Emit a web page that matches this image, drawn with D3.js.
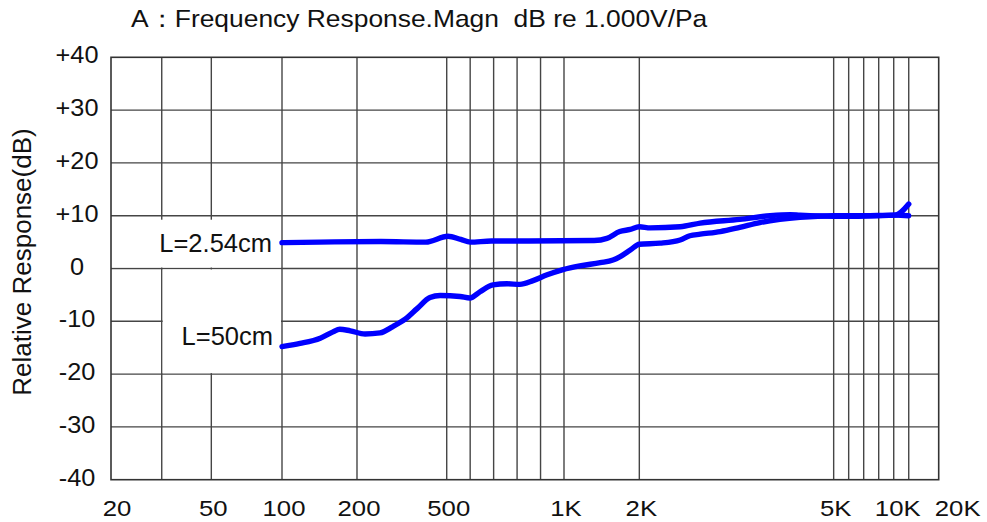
<!DOCTYPE html>
<html>
<head>
<meta charset="utf-8">
<script src="https://d3js.org/d3.v7.min.js"></script>
<style>
  body { margin: 0; background: #fff; }
  text { font-family: Arial, "Liberation Sans", sans-serif; fill: #111; }
</style>
</head>
<body>
<div id="chart"></div>
<script>

// x axis labels and gridlines (the paper uses a non-uniform frequency grid)
var xTickValues = [20, 50, 100, 200, 500, 1000, 2000, 5000, 10000, 20000];
var xTickLabels = ["20", "50", "100", "200", "500", "1K", "2K", "5K", "10K", "20K"];
var xGridValues = [30, 50, 100, 200, 500, 600, 700, 800, 900, 1000, 2000, 5000, 6000, 7000, 8000, 9000, 10000];

var yTickValues = [40, 30, 20, 10, 0, -10, -20, -30, -40];
var yTickLabels = ["+40", "+30", "+20", "+10", "0", "-10", "-20", "-30", "-40"];

// L=2.54cm
var freqNear = [100, 150, 280, 430, 505, 560, 600, 690, 850, 1400, 1570, 1740, 1880, 2000, 2170, 2630, 2940, 3550, 4020, 4330, 4480, 5000, 6080, 7420, 9090, 10000];
var respNear = [4.9, 5.0, 5.1, 5.0, 6.1, 5.5, 5.0, 5.2, 5.2, 5.3, 5.7, 7.0, 7.4, 7.9, 7.7, 7.9, 8.6, 9.3, 10.0, 10.2, 10.1, 9.9, 9.9, 10.0, 10.1, 10.0];

// L=50cm
var freqFar = [100, 124, 151, 168, 177, 191, 227, 277, 320, 361, 401, 444, 478, 557, 599, 642, 697, 757, 812, 868, 928, 996, 1210, 1480, 1650, 1740, 1880, 2000, 2320, 2630, 2780, 2940, 3250, 3550, 3860, 4170, 4480, 5000, 7420, 9090, 10000];
var respFar = [-14.8, -14.2, -13.2, -12.0, -11.5, -11.8, -12.4, -12.2, -11.0, -9.6, -7.6, -5.5, -5.1, -5.3, -5.6, -4.4, -3.1, -2.9, -3.0, -2.3, -1.2, -0.2, 0.5, 1.1, 1.6, 2.2, 3.5, 4.6, 4.8, 5.4, 6.2, 6.5, 7.0, 7.8, 8.7, 9.3, 9.7, 10.0, 10.0, 10.1, 12.2];

var W = 987, H = 522;
var margin = {top: 57.3, right: 48.3, bottom: 42.3, left: 111},
    width = W - margin.left - margin.right,
    height = H - margin.top - margin.bottom;
var x0 = margin.left, x1 = margin.left + width,
    y0 = margin.top, y1 = margin.top + height;

var svg = d3.select("#chart").append("svg")
  .attr("width", W)
  .attr("height", H);

// piecewise scale calibrated to the printed grid
var xBreaks = [20, 30, 50, 100, 200, 500, 1000, 2000, 5000, 10000, 20000];
var xStops  = [0, .0613, .1212, .2066, .2972, .4056, .5473, .6383, .8731, .9638, 1];
var x = d3.scaleLinear()
  .domain(xBreaks)
  .range(xStops.map(function(f) { return x0 + f * width; }));

var y = d3.scaleLinear()
  .domain([-40, 40])
  .range([y1, y0]);

var gridColor = "#454545";
var grid = svg.append("g");

grid.selectAll(".vg").data(xGridValues).enter().append("line")
  .attr("x1", function(d) { return x(d); })
  .attr("x2", function(d) { return x(d); })
  .attr("y1", y0).attr("y2", y1)
  .attr("stroke", gridColor).attr("stroke-width", 1.4);

grid.selectAll(".hg").data(yTickValues.slice(1, -1)).enter().append("line")
  .attr("x1", x0).attr("x2", x1)
  .attr("y1", function(d) { return y(d); })
  .attr("y2", function(d) { return y(d); })
  .attr("stroke", gridColor).attr("stroke-width", 1.4);

grid.append("rect")
  .attr("x", x0).attr("y", y0)
  .attr("width", width).attr("height", height)
  .attr("fill", "none").attr("stroke", "#333").attr("stroke-width", 1.6);

// white boxes behind the curve labels
grid.append("rect")
  .attr("x", x(20) + 1).attr("y", y(10) + 4)
  .attr("width", x(100) - x(20) - 2).attr("height", y(0) - y(10) - 5)
  .attr("fill", "#fff");
grid.append("rect")
  .attr("x", x(30) + 1).attr("y", y(0) + 1)
  .attr("width", x(100) - x(30) - 2).attr("height", y(-20) - y(0) - 2)
  .attr("fill", "#fff");

// curves
var line = d3.line()
  .x(function(d) { return x(d[0]); })
  .y(function(d) { return y(d[1]); })
  .curve(d3.curveMonotoneX);

[[freqFar, respFar], [freqNear, respNear]].forEach(function(s) {
  svg.append("path")
    .datum(d3.zip(s[0], s[1]))
    .attr("d", line)
    .attr("fill", "none")
    .attr("stroke", "#0000ff")
    .attr("stroke-width", 5.4)
    .attr("stroke-linecap", "round")
    .attr("stroke-linejoin", "round");
});

// curve labels
svg.append("text")
  .attr("x", 272).attr("y", y(respNear[0]) + 9)
  .attr("text-anchor", "end")
  .style("font-size", "25.5px")
  .text("L=2.54cm");
svg.append("text")
  .attr("x", 273).attr("y", y(respFar[0]) - 2)
  .attr("text-anchor", "end")
  .style("font-size", "25.5px")
  .text("L=50cm");

// y tick labels
svg.selectAll(".ylab").data(yTickValues).enter().append("text")
  .attr("transform", function(d) { return "translate(77," + (y(d) + 6) + ") scale(1.1,1)"; })
  .attr("text-anchor", "middle")
  .style("font-size", "23px")
  .text(function(d, i) { return yTickLabels[i]; });

// x tick labels
var xNudge = { "20K": 19, "10K": -11, "20": 6 };
svg.selectAll(".xlab").data(xTickValues).enter().append("text")
  .attr("transform", function(d, i) {
    var dx = xNudge[xTickLabels[i]] !== undefined ? xNudge[xTickLabels[i]] : 2;
    return "translate(" + (x(d) + dx) + ",516) scale(1.12,1)";
  })
  .attr("text-anchor", "middle")
  .style("font-size", "23px")
  .text(function(d, i) { return xTickLabels[i]; });

// axis title
svg.append("text")
  .attr("transform", "translate(31,262) rotate(-90)")
  .attr("text-anchor", "middle")
  .style("font-size", "26px")
  .text("Relative Response(dB)");

// title
svg.append("text")
  .attr("transform", "translate(131,27) scale(1.1,1)")
  .style("font-size", "24px")
  .style("white-space", "pre")
  .text("A\uFF1AFrequency Response.Magn  dB re 1.000V/Pa");

</script>
</body>
</html>
